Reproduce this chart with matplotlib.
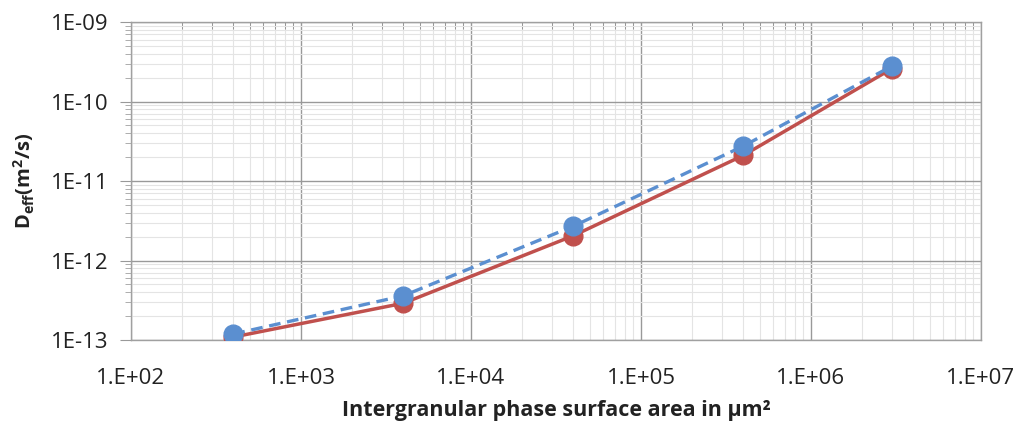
import numpy as np
import matplotlib.pyplot as plt
from matplotlib.ticker import FixedLocator, LogLocator, NullFormatter

plt.rcParams['font.family'] = ['Open Sans', 'DejaVu Sans']
plt.rcParams['mathtext.fontset'] = 'custom'
plt.rcParams['mathtext.bf'] = 'Open Sans:bold'
plt.rcParams['mathtext.rm'] = 'Open Sans'

# %% Data
area = [400, 4000, 40000, 400000, 3000000]
d_red = [1.09e-13, 2.9e-13, 2.05e-12, 2.1e-11, 2.6e-10]
d_blue = [1.19e-13, 3.6e-13, 2.7e-12, 2.75e-11, 2.8e-10]

x_ticks = [1e2, 1e3, 1e4, 1e5, 1e6, 1e7]
x_labels = ['1.E+02', '1.E+03', '1.E+04', '1.E+05', '1.E+06', '1.E+07']
y_ticks = [1e-13, 1e-12, 1e-11, 1e-10, 1e-9]
y_labels = ['1E-13', '1E-12', '1E-11', '1E-10', '1E-09']

RED = '#C0504D'
BLUE = '#5B8FD0'

# %% Plot
fig = plt.figure(figsize=(10.17, 4.28), dpi=100)
ax = fig.add_axes([0.1288, 0.2056, 0.8358, 0.743])

ax.plot(area, d_red, color=RED, lw=2.5, marker='o', ms=13.5, zorder=3)
ax.plot(area, d_blue, color=BLUE, lw=2.4, ls=(0, (3.5, 2)), marker='o', ms=13.5, zorder=4)

ax.set_xscale('log')
ax.set_yscale('log')
ax.set_xlim(1e2, 1e7)
ax.set_ylim(1e-13, 1e-9)

ax.xaxis.set_major_locator(FixedLocator(x_ticks))
ax.set_xticklabels(x_labels)
ax.yaxis.set_major_locator(FixedLocator(y_ticks))
ax.set_yticklabels(y_labels)
ax.xaxis.set_minor_locator(LogLocator(base=10, subs=np.arange(2, 10)))
ax.yaxis.set_minor_locator(LogLocator(base=10, subs=np.arange(2, 10)))
ax.xaxis.set_minor_formatter(NullFormatter())
ax.yaxis.set_minor_formatter(NullFormatter())

ax.grid(which='major', color='#999999', lw=1.0)
ax.grid(which='minor', color='#e4e4e4', lw=0.8)
ax.set_axisbelow(True)

for s in ax.spines.values():
    s.set_color('#a0a0a0')
    s.set_linewidth(1.0)

ax.tick_params(which='major', length=8, color='#999999', labelsize=16,
               labelcolor='#222222', pad=8)
ax.tick_params(axis='x', which='major', length=0, pad=20)
ax.tick_params(which='minor', length=4, color='#a0a0a0')
ax.tick_params(axis='x', which='minor', bottom=False, top=True,
               direction='in', length=5, color='#888888')

ax.set_xlabel('Intergranular phase surface area in \u00b5m\u00b2', fontsize=15.5,
              fontweight='bold', color='#222222', labelpad=8)
ax.set_ylabel(r'D$_{\mathbf{eff}}$(m$^{\mathbf{2}}$/s)', fontsize=14.5,
              fontweight='bold', color='#222222', labelpad=10)

fig.savefig('out.png', dpi=100, facecolor='white')
